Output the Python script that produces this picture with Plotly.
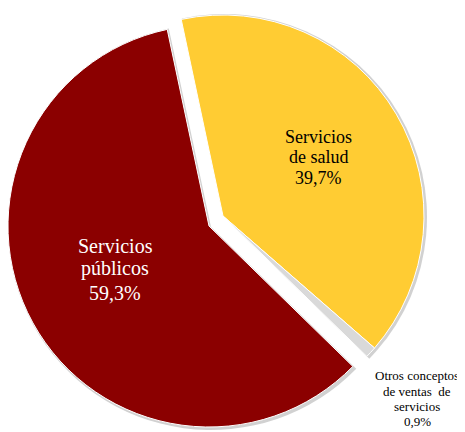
import plotly.graph_objects as go

# the page body keeps its default 8px margin, so the figure starts at (8, 8)
OFF = 8
W, H = 465 - OFF, 432 - OFF

categories = ["Servicios de salud", "Otros conceptos de ventas de servicios", "Servicios públicos"]
shares = [39.7, 0.9, 59.3]
share_labels = ["39,7%", "0,9%", "59,3%"]

# label lines as drawn in the chart
label_lines = [
    ["Servicios", "de salud", share_labels[0]],
    ["Otros conceptos", "de ventas  de", "servicios", share_labels[1]],
    ["Servicios", "públicos", share_labels[2]],
]

colors = ["#FFCC33", "#D9D9D9", "#8B0000"]
NONE = "rgba(0,0,0,0)"


def px_x(x):
    return (x - OFF) / W


def px_y(y):
    return 1 - (y - OFF) / H


def domain(cx, cy, r):
    """page-pixel centre / radius -> pie domain (paper fractions)"""
    return dict(x=[px_x(cx - r), px_x(cx + r)], y=[px_y(cy + r), px_y(cy - r)])


def pie(cx, cy, r, slice_colors, line_colors, line_w):
    return go.Pie(
        labels=categories,
        values=shares,
        sort=False,
        direction="clockwise",
        rotation=-12,
        textinfo="none",
        marker=dict(colors=slice_colors, line=dict(color=line_colors, width=line_w)),
        domain=domain(cx, cy, r),
        hoverinfo="label+value",
        showlegend=False,
    )


shadow = "rgba(90,90,90,0.28)"
fig = go.Figure()
# soft shadows under the slices
fig.add_trace(pie(224, 217, 203, [shadow, shadow, NONE], NONE, 0))
fig.add_trace(pie(211, 227, 203, [NONE, NONE, shadow], NONE, 0))
# main body (servicios públicos)
fig.add_trace(pie(209, 226, 201, [NONE, NONE, colors[2]], [NONE, NONE, "white"], [0, 0, 1]))
# exploded part (salud + otros)
fig.add_trace(pie(223, 216, 201, [colors[0], colors[1], NONE], ["white", "white", NONE], [1, 1, 0]))

# label positions (page px centre of each line)
label_pos = [
    (318, [137, 157, 178], 18, "black"),
    (417, [375, 391, 406, 421], 13, "black"),
    (115, [246, 268, 293], 20, "white"),
]
for lines, (x, ys, size, col) in zip(label_lines, label_pos):
    for line, y in zip(lines, ys):
        fig.add_annotation(
            text=line,
            x=px_x(x), y=px_y(y), xref="paper", yref="paper",
            xanchor="center", yanchor="middle",
            showarrow=False,
            font=dict(family="Liberation Serif", size=size, color=col),
        )

fig.update_layout(
    width=W,
    height=H,
    margin=dict(l=0, r=0, t=0, b=0),
    paper_bgcolor="white",
    showlegend=False,
)

fig.write_html("out.html")
